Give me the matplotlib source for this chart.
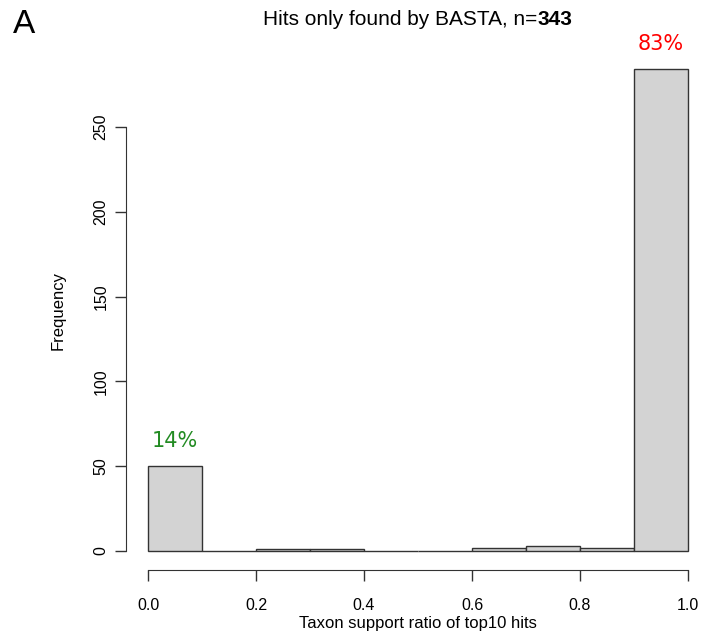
import numpy as np
import matplotlib
matplotlib.use("Agg")
import matplotlib.pyplot as plt

# histogram counts (bins of width 0.1)
bin_edges = [0.0, 0.1, 0.2, 0.3, 0.4, 0.5, 0.6, 0.7, 0.8, 0.9, 1.0]
counts = [50, 0, 1, 1, 0, 0, 2, 3, 2, 284]
pct_labels = ["14%", "83%"]
pct_bins = [0, 9]
pct_colors = ["#228B22", "red"]
x_ticks = [0.0, 0.2, 0.4, 0.6, 0.8, 1.0]
y_ticks = [0, 50, 100, 150, 200, 250]

plt.rcParams["font.family"] = ["Liberation Sans", "DejaVu Sans"]

W, H = 702, 637
fig = plt.figure(figsize=(W / 100, H / 100), dpi=100)
# plot region in pixels: x 126.4..709.6, y 50.1..570.3 (R style 4% padding)
ax = fig.add_axes([126.4 / W, (H - 570.3) / H, 583.2 / W, 520.2 / H])

lefts = np.array(bin_edges[:-1])
widths = np.diff(bin_edges)
ax.bar(lefts, counts, width=widths, align="edge", color="#D3D3D3",
       edgecolor="#333333", linewidth=1.0)

ax.set_xlim(-0.04, 1.04)
ax.set_ylim(-0.04 * 284, 284 * 1.04)

for lab, b, c in zip(pct_labels, pct_bins, pct_colors):
    ax.text(lefts[b] + widths[b] / 2, counts[b] + 11.5, lab, color=c,
            ha="center", va="baseline", fontsize=15, family="DejaVu Sans")

for s in ["top", "right"]:
    ax.spines[s].set_visible(False)
ax.spines["left"].set_bounds(0, 250)
ax.spines["bottom"].set_bounds(0, 1)
ax.spines["left"].set_color("#333333")
ax.spines["bottom"].set_color("#333333")

ax.set_xticks(x_ticks)
ax.set_xticklabels([f"{v:.1f}" for v in x_ticks])
ax.set_yticks(y_ticks)
ax.set_yticklabels([str(v) for v in y_ticks], rotation=90, va="center")
ax.tick_params(axis="both", length=8, width=1, color="#333333",
               labelsize=11.5)
ax.tick_params(axis="x", pad=12)
ax.tick_params(axis="y", pad=5)

fig.text(418 / W, 1 - 628 / H, "Taxon support ratio of top10 hits",
         ha="center", va="baseline", fontsize=12)
fig.text(63 / W, 1 - 310 / H, "Frequency", ha="center", va="baseline",
         rotation=90, rotation_mode="anchor", fontsize=12)

# title: normal part + bold count, centred as one line
fig.canvas.draw()
r = fig.canvas.get_renderer()
t1 = fig.text(0, 1 - 25 / H, "Hits only found by BASTA, n=",
              ha="left", va="baseline", fontsize=15)
t2 = fig.text(0, 1 - 25 / H, "343", ha="left", va="baseline",
              fontsize=15, fontweight="bold")
w1 = t1.get_window_extent(r).width
w2 = t2.get_window_extent(r).width
x0 = 417.5 - (w1 + w2) / 2
t1.set_x(x0 / W)
t2.set_x((x0 + w1) / W)

fig.text(24 / W, 1 - 33 / H, "A", ha="center", va="baseline", fontsize=24)

fig.savefig("out.png", dpi=100)
